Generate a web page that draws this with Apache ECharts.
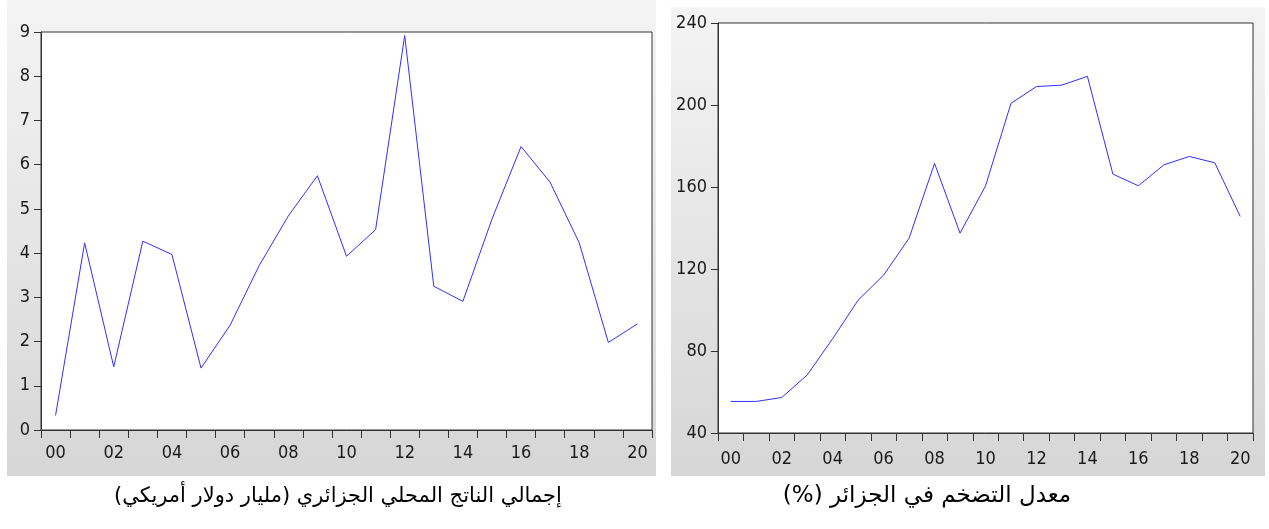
<!DOCTYPE html>
<html><head><meta charset="utf-8">
<script src="https://cdn.jsdelivr.net/npm/echarts@6/dist/echarts.min.js"></script>
<style>html,body{margin:0;padding:0;background:#fff}#c{width:1269px;height:529px}</style>
</head><body><div id="c"></div>
<script>
const years = ['00','01','02','03','04','05','06','07','08','09','10','11','12','13','14','15','16','17','18','19','20'];
const gdpValues = [0.33,4.23,1.43,4.27,3.97,1.40,2.37,3.72,4.84,5.75,3.93,4.53,8.92,3.25,2.91,4.77,6.41,5.60,4.23,1.98,2.40];
const inflValues = [55.4,55.4,57.3,68.3,86,104.8,117,135,171.5,137.5,160.5,200.8,209,209.7,214,166.3,160.6,170.8,174.9,171.8,145.6];
const gdpTitle = 'إجمالي الناتج المحلي الجزائري (مليار دولار أمريكي)';
const inflTitle = 'معدل التضخم في الجزائر (%)';
const gdpTicks = {min:0,max:9,interval:1};
const inflTicks = {min:40,max:240,interval:40};

const chart = echarts.init(document.getElementById('c'));
const labelFont = {color:'#1a1a1a',fontSize:18,fontFamily:"'DejaVu Sans Condensed','Liberation Sans Narrow','Liberation Sans',sans-serif"};
const axisLine = {lineStyle:{color:'#333',width:1}};
function xAxis(gi, margin){
  return {type:'category',gridIndex:gi,data:years,boundaryGap:true,
    axisLine:axisLine,axisTick:{show:true,interval:0,length:8,inside:false,lineStyle:{color:'#333'}},
    axisLabel:Object.assign({interval:1,margin:margin},labelFont),splitLine:{show:false}};
}
function yAxis(gi, t){
  return {type:'value',gridIndex:gi,min:t.min,max:t.max,interval:t.interval,
    axisLine:Object.assign({show:true},axisLine),axisTick:{show:true,length:7,lineStyle:{color:'#333'}},
    axisLabel:Object.assign({margin:11},labelFont),splitLine:{show:false}};
}
function panelFill(){
  return new echarts.graphic.LinearGradient(0,0,0,1,[{offset:0,color:'#f4f4f4'},{offset:1,color:'#d6d6d6'}]);
}
const rtl = s => '\u200F' + s + '\u200F';
const titleStyle = {fontWeight:'normal',color:'#000',fontFamily:"'DejaVu Sans',sans-serif"};
chart.setOption({
  animation:false,
  backgroundColor:'#fff',
  graphic:[
    {type:'rect',shape:{x:7,y:0,width:649,height:476},style:{fill:panelFill()},z:-10},
    {type:'rect',shape:{x:671,y:7,width:594,height:469},style:{fill:panelFill()},z:-10}
  ],
  title:[
    {text:rtl(gdpTitle),left:333,top:481,textAlign:'center',textStyle:Object.assign({fontSize:21},titleStyle)},
    {text:rtl(inflTitle),left:922,top:480,textAlign:'center',textStyle:Object.assign({fontSize:23},titleStyle)}
  ],
  grid:[
    {left:41,top:32,width:611,height:398,show:true,backgroundColor:'#fff',borderColor:'#333',borderWidth:1},
    {left:718,top:23,width:535,height:410,show:true,backgroundColor:'#fff',borderColor:'#333',borderWidth:1}
  ],
  xAxis:[xAxis(0,14),xAxis(1,17)],
  yAxis:[yAxis(0,gdpTicks),yAxis(1,inflTicks)],
  series:[
    {type:'line',xAxisIndex:0,yAxisIndex:0,data:gdpValues,showSymbol:false,lineStyle:{color:'#3030ff',width:1}},
    {type:'line',xAxisIndex:1,yAxisIndex:1,data:inflValues,showSymbol:false,lineStyle:{color:'#3030ff',width:1}}
  ]
});
</script></body></html>
